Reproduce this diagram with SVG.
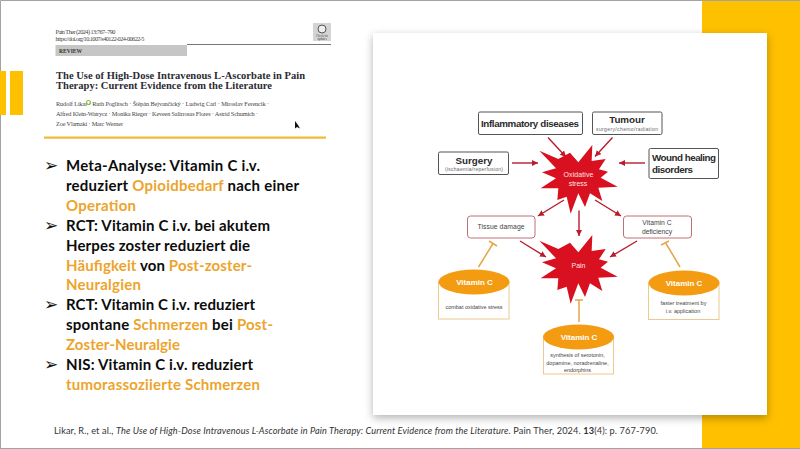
<svg xmlns="http://www.w3.org/2000/svg" width="800" height="449" viewBox="0 0 800 449">
<style>
.b{font-family:Lato,"Liberation Sans",sans-serif;font-weight:700;font-size:15px;fill:#0c0c0c}
.o{fill:#eda42c}
.bul{font-family:"DejaVu Sans",sans-serif;font-size:17px;fill:#111}
.a{font-family:"Liberation Serif",serif;font-size:6.300px;fill:#444}
.t{font-family:"Liberation Serif",serif;font-weight:700;font-size:10.500px;fill:#2b2b33}
.s{font-family:"Liberation Sans",sans-serif;text-anchor:middle}
.h{font-weight:700;fill:#2a2a2a;font-size:9.800px}
.m{fill:#666;font-size:5px}
.d{fill:#444;font-size:6.800px}
.w{fill:#fff;font-weight:700;font-size:8px}
.p{fill:#ffe3e5;font-size:7px}
.box{fill:#fff;stroke:#555;stroke-width:1}
.soft{fill:#fff;stroke:#bd7076;stroke-width:1}
.vbox{fill:#fff;stroke:#ecc98f;stroke-width:1}
.ell{fill:#f39c12}
.arr{fill:none;stroke:#b91c2a;stroke-width:1.400;marker-end:url(#ah)}
.tb{fill:none;stroke:#e3a648;stroke-width:1.500}
</style>
<defs>
<marker id="ah" markerUnits="userSpaceOnUse" markerWidth="7" markerHeight="7" refX="6" refY="3" orient="auto"><path d="M0 0L6 3L0 6Z" fill="#b91c2a"/></marker>
<filter id="sh" x="-5%" y="-5%" width="110%" height="110%"><feDropShadow dx="0" dy="3" stdDeviation="4" flood-color="#000" flood-opacity=".3"/></filter>
<path id="star" transform="scale(.3333)" fill="#d9101f" d="M28 47L85 72L120 53L145 82L187 30L185 78L227 72L207 103L234 110L212 128L263 155L205 158L217 198L180 175L165 216L145 175L122 236L110 185L82 195L85 160L32 160L78 130L36 112L78 100Z"/>
</defs>
<rect width="800" height="449" fill="#fff"/>
<rect x="702" y="0" width="98" height="449" fill="#ffc000"/>
<path d="M.5 449V.5H800M0 448.500H800" fill="none" stroke="#a3a3a3" stroke-width="1"/>
<rect x="0" y="71" width="6" height="44" fill="#ffc000"/>
<rect x="10" y="71" width="13" height="44" fill="#ffc000"/>
<rect x="373" y="33" width="394" height="382" fill="#fff" filter="url(#sh)"/>

<g id="paper">
<text class="a" x="55.500" y="34" textLength="60">Pain Ther (2024) 13:767–790</text>
<text class="a" x="55.500" y="40.500" textLength="89">https://doi.org/10.1007/s40122-024-00622-5</text>
<rect x="313" y="23" width="18" height="18" fill="#d4d4d4"/>
<circle cx="322" cy="29" r="4" fill="#eee" stroke="#555"/>
<text class="a" x="322" y="37" text-anchor="middle" style="font-size:3px">Check for</text>
<text class="a" x="322" y="40" text-anchor="middle" style="font-size:3px">updates</text>
<path d="M187 44.500H331" stroke="#777" stroke-width="1"/>
<rect x="55.500" y="45" width="131.500" height="11" fill="#c6c6c6"/>
<text x="59" y="53" font-family="Liberation Serif,serif" font-weight="700" font-size="5.500" fill="#333" textLength="23">REVIEW</text>
<text class="t" x="56" y="78.500" textLength="249">The Use of High-Dose Intravenous L-Ascorbate in Pain</text>
<text class="t" x="56" y="89" textLength="216">Therapy: Current Evidence from the Literature</text>
<text class="a" x="56" y="105.500" textLength="213">Rudolf Likar · Ruth Poglitsch · Štěpán Bejvančický · Ludwig Carl · Miroslav Ferencik ·</text>
<circle cx="88.500" cy="102.500" r="2" fill="none" stroke="#8dbf3f" stroke-width="1.200"/>
<text class="a" x="56" y="116" textLength="202">Alfred Klein-Watrycz · Monika Rieger · Keveen Salirrosas Flores · Astrid Schumich ·</text>
<text class="a" x="56" y="126" textLength="67">Zoe Vlamaki · Marc Werner</text>
<path d="M295 121V128.500L297 127L300 128.500L298 125Z" fill="#111"/>
</g>
<rect x="44" y="136.500" width="282" height="2.200" fill="#eebb33"/>

<g id="bullets">
<text class="bul" x="44" y="171">➢</text>
<text class="bul" x="44" y="231">➢</text>
<text class="bul" x="44" y="310">➢</text>
<text class="bul" x="44" y="370">➢</text>
<text class="b" x="66" y="170.500" textLength="194">Meta-Analyse: Vitamin C i.v.</text>
<text class="b" x="66" y="190.500" textLength="233">reduziert <tspan class="o">Opioidbedarf</tspan> nach einer</text>
<text class="b" x="66" y="210.500" textLength="70"><tspan class="o">Operation</tspan></text>
<text class="b" x="66" y="230.500" textLength="204">RCT: Vitamin C i.v. bei akutem</text>
<text class="b" x="66" y="250.500" textLength="184">Herpes zoster reduziert die</text>
<text class="b" x="66" y="270.500" textLength="186"><tspan class="o">Häufigkeit</tspan> von <tspan class="o">Post-zoster-</tspan></text>
<text class="b" x="66" y="290" textLength="75"><tspan class="o">Neuralgien</tspan></text>
<text class="b" x="66" y="310" textLength="189">RCT: Vitamin C i.v. reduziert</text>
<text class="b" x="66" y="330" textLength="207">spontane <tspan class="o">Schmerzen</tspan> bei <tspan class="o">Post-</tspan></text>
<text class="b" x="66" y="350" textLength="114"><tspan class="o">Zoster-Neuralgie</tspan></text>
<text class="b" x="66" y="370" textLength="187">NIS: Vitamin C i.v. reduziert</text>
<text class="b" x="66" y="390" textLength="194"><tspan class="o">tumorassoziierte Schmerzen</tspan></text>
</g>

<text x="54" y="434" font-family="Lato,Liberation Sans,sans-serif" font-size="9.200" fill="#333" textLength="604">Likar, R., et al., <tspan font-style="italic">The Use of High-Dose Intravenous L-Ascorbate in Pain Therapy: Current Evidence from the Literature.</tspan> Pain Ther, 2024. <tspan font-weight="700">13</tspan>(4): p. 767-790.</text>

<g id="connectors">
<path class="arr" d="M548 137.500L566 157"/>
<path class="arr" d="M612.500 137.500L595 156.500"/>
<path class="arr" d="M512 163H538"/>
<path class="arr" d="M645 163H619"/>
<path class="arr" d="M564 200L538 216"/>
<path class="arr" d="M595 200L621 216"/>
<path class="arr" d="M579 210.500V236"/>
<path class="arr" d="M520 241L546 257"/>
<path class="arr" d="M637 241L610 257"/>
<path class="tb" d="M478.500 267L493 243.500M489 241L497 246"/>
<path class="tb" d="M680 267L666 243.500M661 245L669 241"/>
<path class="tb" d="M579 322V300M575 300H583"/>
</g>

<g id="node-inflammatory"><rect class="box" x="478.500" y="112" width="104" height="22.500" rx="1.500"/><text class="s h" x="530" y="126.500" textLength="98">Inflammatory diseases</text></g>
<g id="node-tumour"><rect class="box" x="592.500" y="112" width="69.500" height="22.500" rx="1.500"/><text class="s h" x="627" y="123">Tumour</text><text class="s m" x="627" y="130.500" textLength="62">surgery/chemo/radiation</text></g>
<g id="node-surgery"><rect class="box" x="438.500" y="152" width="70" height="22.500" rx="1.500"/><text class="s h" x="474" y="163.500">Surgery</text><text class="s m" x="474" y="170.800" textLength="58">(ischaemia/reperfusion)</text></g>
<g id="node-wound"><rect class="box" x="649" y="148.500" width="69.500" height="30" rx="1.500"/><text class="h" font-family="Liberation Sans,sans-serif" x="652" y="160.500" textLength="64">Wound healing</text><text class="h" font-family="Liberation Sans,sans-serif" x="652" y="172.500" textLength="41">disorders</text></g>
<g id="node-oxidative"><use href="#star" x="0" y="0" transform="translate(530 135)"/><text class="s p" x="578.500" y="177" textLength="30">Oxidative</text><text class="s p" x="578" y="186">stress</text></g>
<g id="node-tissue"><rect class="soft" x="467.500" y="216" width="67.500" height="22" rx="3"/><text class="s d" x="501" y="228.500" textLength="47">Tissue damage</text></g>
<g id="node-deficiency"><rect class="soft" x="623.500" y="216" width="68" height="22" rx="3"/><text class="s d" x="657" y="224.500">Vitamin C</text><text class="s d" x="657" y="233.500">deficiency</text></g>
<g id="node-pain"><use href="#star" x="0" y="0" transform="translate(530 225)"/><text class="s p" x="578.500" y="268">Pain</text></g>
<g id="node-vitc-left"><rect class="vbox" x="438.500" y="282" width="70.500" height="37"/><ellipse class="ell" cx="474" cy="282" rx="35.500" ry="12.500"/><text class="s w" x="474.500" y="285">Vitamin C</text><text class="s d" x="474" y="308.500" textLength="57" style="font-size:5.500px">combat oxidative stress</text></g>
<g id="node-vitc-right"><rect class="vbox" x="648.500" y="283" width="70.500" height="36.500"/><ellipse class="ell" cx="684" cy="283" rx="35.500" ry="12.500"/><text class="s w" x="684" y="285.500">Vitamin C</text><text class="s d" x="683.500" y="305" style="font-size:5.500px">faster treatment by</text><text class="s d" x="683" y="312.500" style="font-size:5.500px">i.v. application</text></g>
<g id="node-vitc-center"><rect class="vbox" x="543.500" y="337" width="70" height="37"/><ellipse class="ell" cx="578.500" cy="337" rx="35.500" ry="12.500"/><text class="s w" x="579" y="340">Vitamin C</text><text class="s d" x="577.500" y="357" style="font-size:5.500px">synthesis of serotonin,</text><text class="s d" x="577.500" y="364.500" style="font-size:5.500px">dopamine, noradrenaline,</text><text class="s d" x="577.500" y="371.500" style="font-size:5.500px">endorphins</text></g>
</svg>
